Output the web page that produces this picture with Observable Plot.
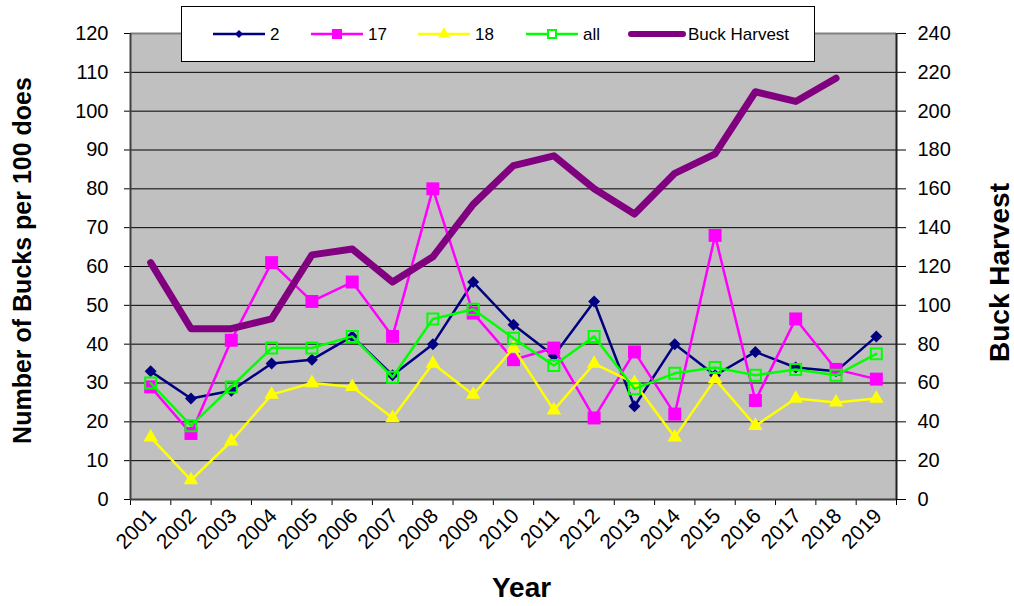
<!DOCTYPE html>
<html><head><meta charset="utf-8">
<script src="https://cdn.jsdelivr.net/npm/d3@7"></script>
<script src="https://cdn.jsdelivr.net/npm/@observablehq/plot@0.6"></script>
<style>
body{margin:0;background:#fff;font-family:"Liberation Sans",Arial,sans-serif;}
#wrap{position:relative;width:1014px;height:606px;}
#legend{position:absolute;left:181px;top:6px;width:634px;height:56px;background:#fff;border:1px solid #000;box-sizing:border-box;}
</style></head><body>
<div id="wrap"><div id="chart"></div><div id="legend"></div></div>
<script>
// ---- data ----
const years = [2001,2002,2003,2004,2005,2006,2007,2008,2009,2010,2011,2012,2013,2014,2015,2016,2017,2018,2019];
const unit2   = [33,26,28,35,36,42,32,40,56,45,37,51,24,40,32,38,34,33,42];
const unit17  = [29,17,41,61,51,56,42,80,48,36,39,21,38,22,68,25.5,46.5,33.5,31];
const unit18  = [16,5,15,27,30,29,21,35,27,39,23,35,30,16,31,19,26,25,26];
const unitAll = [30,19,29,39,39,42,31.5,46.5,49,41.5,34.5,42,28.5,32.5,34,32,33.5,32,37.5];
const harvest = [122,88,88,93,126,129,112,125,152,172,177,160,147,168,178,210,205,217];
const leftTicks  = [0,10,20,30,40,50,60,70,80,90,100,110,120];
const rightTicks = [0,20,40,60,80,100,120,140,160,180,200,220,240];
const seriesNames = ["2","17","18","all","Buck Harvest"];
const leftTitle = "Number of Bucks per 100 does";
const rightTitle = "Buck Harvest";
const xTitle = "Year";

// secondary axis: 240 on the right ↔ 120 on the left
const ratio = rightTicks[rightTicks.length-1] / leftTicks[leftTicks.length-1];
const rows = (vals) => vals.map((v, i) => ({year: years[i], v}));
const d2 = rows(unit2), d17 = rows(unit17), d18 = rows(unit18), dAll = rows(unitAll);
const dH = harvest.map((v, i) => ({year: years[i], v: v / ratio}));
const edges = years.map(y => y - 0.5).concat([years[years.length-1] + 0.5]);

const C = {n2:"#000080", n17:"#FF00FF", n18:"#FFFF00", all:"#00FF00", h:"#800080"};

const chart = Plot.plot({
  width: 1014, height: 606,
  marginLeft: 130, marginRight: 118, marginTop: 33, marginBottom: 107,
  style: {fontFamily: "'Liberation Sans', Arial, sans-serif", fontSize: "19px", background: "#fff", color: "#000", overflow: "visible"},
  x: {type: "linear", domain: [edges[0], edges[edges.length-1]]},
  y: {domain: [leftTicks[0], leftTicks[leftTicks.length-1]]},
  marks: [
    Plot.frame({fill: "#c0c0c0", stroke: null}),
    Plot.ruleY(leftTicks.slice(1, -1), {stroke: "#000", strokeWidth: 1}),
    Plot.ruleY([leftTicks[leftTicks.length-1]], {stroke: "#808080", strokeWidth: 2}),
    Plot.axisY({ticks: leftTicks, tickSize: 6, tickPadding: 16, label: null, fontSize: 20}),
    Plot.axisY({anchor: "right", ticks: rightTicks.map(d => d / ratio), tickFormat: d => String(Math.round(d * ratio)), tickSize: 9, tickPadding: 12, label: null, fontSize: 20}),
    Plot.axisX({ticks: years, tickSize: 0, tickRotate: -45, tickPadding: 10, dx: 2, dy: 3, tickFormat: d => String(d), label: null, fontSize: 21}),
    Plot.axisX({ticks: edges, tickSize: 6, tickFormat: () => "", label: null}),
    Plot.ruleX([edges[0]], {stroke: "#404040", strokeWidth: 2}),
    Plot.ruleX([edges[edges.length-1]], {stroke: "#202020", strokeWidth: 2}),
    Plot.ruleY([0], {stroke: "#404040", strokeWidth: 2}),
    // series 2
    Plot.line(d2, {x: "year", y: "v", stroke: C.n2, strokeWidth: 2.5}),
    Plot.dot(d2, {x: "year", y: "v", symbol: "diamond2", fill: C.n2, r: 5.4}),
    // series 17
    Plot.line(d17, {x: "year", y: "v", stroke: C.n17, strokeWidth: 2.5}),
    Plot.dot(d17, {x: "year", y: "v", symbol: "square", fill: C.n17, r: 7.3}),
    // series 18
    Plot.line(d18, {x: "year", y: "v", stroke: C.n18, strokeWidth: 2.5}),
    Plot.dot(d18, {x: "year", y: "v", symbol: "triangle", fill: C.n18, r: 5.4}),
    // all
    Plot.line(dAll, {x: "year", y: "v", stroke: C.all, strokeWidth: 2.5}),
    Plot.dot(dAll, {x: "year", y: "v", symbol: "square", fill: "none", stroke: C.all, strokeWidth: 2, r: 6.2}),
    // buck harvest (secondary axis)
    Plot.line(dH, {x: "year", y: "v", stroke: C.h, strokeWidth: 7, strokeLinejoin: "round"}),
    // titles
    Plot.text([leftTitle], {frameAnchor: "left", textAnchor: "middle", dx: -108, dy: -6, rotate: -90, fontSize: 25, fontWeight: "bold"}),
    Plot.text([rightTitle], {frameAnchor: "right", textAnchor: "middle", dx: 104, dy: 6, rotate: -90, fontSize: 28, fontWeight: "bold"}),
    Plot.text([xTitle], {frameAnchor: "bottom", textAnchor: "middle", dx: 8, dy: 97, fontSize: 28, fontWeight: "bold"})
  ]
});
document.getElementById("chart").append(chart);

// ---- legend ----
const legendItems = [
  {name: seriesNames[0], color: C.n2, sym: d3.symbolDiamond2, size: 40, fill: true, w: 2.5},
  {name: seriesNames[1], color: C.n17, sym: d3.symbolSquare, size: 100, fill: true, w: 2.5},
  {name: seriesNames[2], color: C.n18, sym: d3.symbolTriangle, size: 60, fill: true, w: 2.5},
  {name: seriesNames[3], color: C.all, sym: d3.symbolSquare, size: 64, fill: false, w: 2.5},
  {name: seriesNames[4], color: C.h, sym: null, w: 6}
];
const starts = [31, 129, 236, 344, 449];
const svg = d3.select("#legend").append("svg").attr("width", 632).attr("height", 54)
  .style("font-family", "'Liberation Sans', Arial, sans-serif").style("font-size", "17px");
legendItems.forEach((it, i) => {
  const g = svg.append("g").attr("transform", `translate(${starts[i]},27)`);
  g.append("line").attr("x1", 0).attr("x2", 52).attr("stroke", it.color).attr("stroke-width", it.w).attr("stroke-linecap", it.sym ? "butt" : "round");
  if (it.sym) {
    g.append("path").attr("transform", "translate(26,0)").attr("d", d3.symbol(it.sym, it.size)())
      .attr("fill", it.fill ? it.color : "#fff").attr("stroke", it.fill ? "none" : it.color).attr("stroke-width", 2);
  }
  g.append("text").attr("x", 57).attr("dy", "0.35em").text(it.name);
});
</script>
</body></html>
